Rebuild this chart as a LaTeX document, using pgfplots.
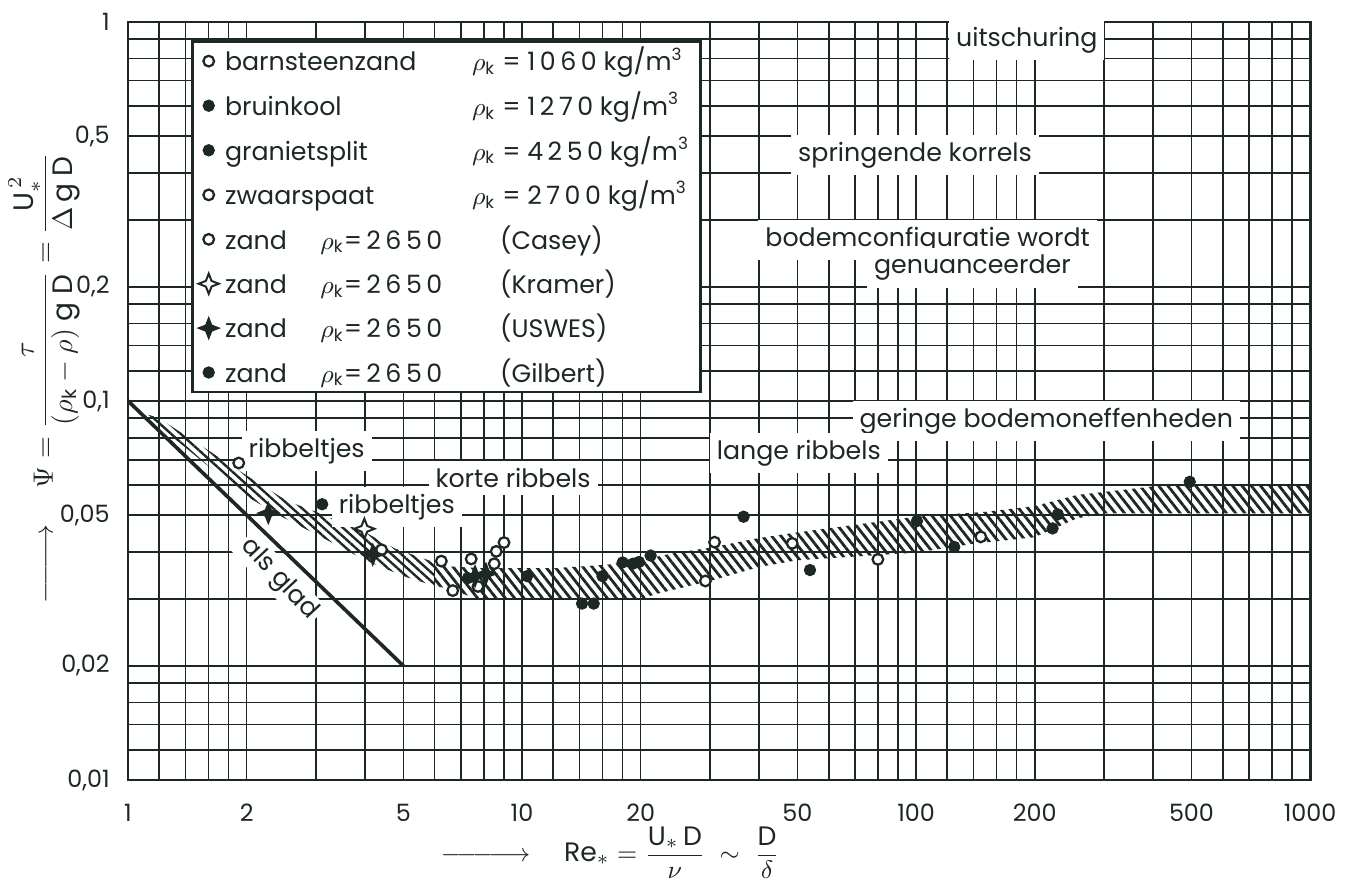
\documentclass[border=0pt]{standalone}
\usepackage{fontspec}
\setmainfont{Poppins}
\usepackage{amsmath}
\usepackage{pgfplots}
\pgfplotsset{compat=1.18}
\usetikzlibrary{patterns.meta}
\definecolor{ink}{RGB}{30,40,35}
\newcommand{\lbl}{\fontsize{9}{11}\selectfont}
\newcommand{\spaced}[1]{{\addfontfeature{LetterSpace=18}#1}}
\newcommand{\dens}[1]{$\rho_{\text{k}}$\ =\ \spaced{#1}\ kg/m$^{\text{3}}$}
\newcommand{\zand}[1]{\makebox[34pt][l]{zand}\makebox[64pt][l]{$\rho_{\text{k}}$=\,\spaced{2650}}(#1)}

% vierpuntige ster
\pgfdeclareplotmark{star4}{%
  \pgfpathmoveto{\pgfqpoint{0pt}{\pgfplotmarksize}}%
  \pgfpathlineto{\pgfqpoint{0.28\pgfplotmarksize}{0.28\pgfplotmarksize}}%
  \pgfpathlineto{\pgfqpoint{\pgfplotmarksize}{0pt}}%
  \pgfpathlineto{\pgfqpoint{0.28\pgfplotmarksize}{-0.28\pgfplotmarksize}}%
  \pgfpathlineto{\pgfqpoint{0pt}{-\pgfplotmarksize}}%
  \pgfpathlineto{\pgfqpoint{-0.28\pgfplotmarksize}{-0.28\pgfplotmarksize}}%
  \pgfpathlineto{\pgfqpoint{-\pgfplotmarksize}{0pt}}%
  \pgfpathlineto{\pgfqpoint{-0.28\pgfplotmarksize}{0.28\pgfplotmarksize}}%
  \pgfpathclose
  \pgfusepathqfillstroke}

\pgfplotsset{
  oc/.style={only marks, mark=*, mark size=1.9pt, mark options={draw=ink, fill=white, line width=0.8pt}},
  fc/.style={only marks, mark=*, mark size=2pt, mark options={draw=ink, fill=ink, line width=0.4pt}},
  os/.style={only marks, mark=star4, mark size=3.6pt, mark options={draw=ink, fill=white, line width=0.7pt}},
  fs/.style={only marks, mark=star4, mark size=3.8pt, mark options={draw=ink, fill=ink, line width=0.4pt}},
}
\tikzset{box/.style={fill=white, inner sep=2.5pt, font=\lbl, text=ink}}

\begin{document}
\begin{tikzpicture}
\begin{axis}[scale only axis, width=421pt, height=270pt,
  xmode=log, ymode=log, xmin=1, xmax=1000, ymin=0.01, ymax=1,
  xtick={1,2,5,10,20,50,100,200,500,1000},
  xticklabels={1,2,5,10,20,50,100,200,500,1000},
  ytick={0.01,0.02,0.05,0.1,0.2,0.5,1},
  yticklabels={{0,01},{0,02},{0,05},{0,1},{0,2},{0,5},{1}},
  minor xtick={1.2,1.4,1.6,1.8,2,3,4,5,6,7,8,9,12,14,16,18,20,30,40,50,60,70,80,90,
               120,140,160,180,200,300,400,500,600,700,800,900},
  minor ytick={0.012,0.014,0.016,0.018,0.02,0.03,0.04,0.05,0.06,0.07,0.08,0.09,
               0.12,0.14,0.16,0.18,0.2,0.3,0.4,0.5,0.6,0.7,0.8,0.9},
  grid=both,
  major grid style={ink, line width=0.6pt},
  minor grid style={ink, line width=0.6pt},
  axis line style={ink, line width=1pt},
  major tick length=0pt, minor tick length=0pt,
  tick label style={font=\fontsize{8.5}{10}\selectfont, text=ink},
  xticklabel style={yshift=-5pt}, yticklabel style={xshift=-3pt},
  xlabel={$\relbar\joinrel\relbar\joinrel\relbar\joinrel\relbar\joinrel\rightarrow\quad
    \text{Re}_{*}=\dfrac{\text{U}_{*}\,\text{D}}{\nu}\ \sim\ \dfrac{\text{D}}{\delta}$},
  xlabel style={at={(rel axis cs:0.408,-0.096)}, anchor=center, font=\fontsize{9.5}{11}\selectfont, text=ink},
  ylabel={$\relbar\joinrel\relbar\joinrel\relbar\joinrel\rightarrow\quad
    \Psi=\dfrac{\tau}{(\rho_{\text{k}}-\rho)\ \text{g D}}=\dfrac{\text{U}_{*}^{\,2}}{\Delta\,\text{g D}}$},
  ylabel style={at={(rel axis cs:-0.071,0.53)}, anchor=center, font=\fontsize{10}{12}\selectfont, text=ink},
  legend cell align=left,
  legend style={at={(rel axis cs:0.0533,0.976)}, anchor=north west, draw=ink,
    line width=1pt, fill=white, font=\lbl, text=ink, row sep=1.9pt,
    inner xsep=2pt, inner ysep=0pt},
]
% gearceerde band, schuin deel
\addplot[draw=none, forget plot, pattern={Lines[angle=-42,distance=2.3pt,line width=0.85pt]}, pattern color=ink]
  coordinates {(1.12,0.092) (1.19,0.0905) (2,0.0636) (2.53,0.0545) (3,0.051) (4,0.045) (4.76,0.0408) (6,0.0375)
               (6,0.0325) (5,0.0345) (4,0.038) (3,0.0445) (2.5,0.049) (2,0.056) (1.5,0.071) (1.12,0.091)} -- cycle;
% gearceerde band, vlak deel
\addplot[draw=none, forget plot, pattern={Lines[angle=-52,distance=2.6pt,line width=1pt]}, pattern color=ink]
  coordinates {(6,0.0375) (6.5,0.0366) (8,0.0362) (12,0.0362) (16.5,0.037) (20,0.038) (24,0.0396) (30,0.041)
               (40,0.0435) (50,0.045) (100,0.0495) (150,0.051) (200,0.0528) (256,0.0565) (400,0.0595) (500,0.06) (1000,0.06)
               (1000,0.0505) (300,0.0505) (256,0.049) (200,0.0437) (140,0.042) (100,0.0398) (50,0.038) (40,0.0365)
               (30,0.0335) (22,0.031) (20,0.030) (7.6,0.0302) (6.5,0.032) (6,0.0325)} -- cycle;

\node[box] at (axis cs:191,0.896) {uitschuring};
\node[box] at (axis cs:99.4,0.446) {springende korrels};
\node[box] at (axis cs:107,0.266) {bodemconfiguratie wordt};
\node[box] at (axis cs:139,0.2244) {genuanceerder};
\node[box] at (axis cs:214,0.0885) {geringe bodemoneffenheden};
\node[box] at (axis cs:50.4,0.0729) {lange ribbels};
\node[box] at (axis cs:9.49,0.0626) {korte ribbels};
\node[box] at (axis cs:2.84,0.0738) {ribbeltjes};
\node[box] at (axis cs:4.81,0.0525) {ribbeltjes};
\node[box, rotate=-47, inner sep=1pt] at (axis cs:2.42,0.0338) {als glad};

\addplot[ink, line width=1.3pt, forget plot] coordinates {(1,0.1) (5,0.02)};

\addplot[oc] coordinates {(6.24,0.0378) (6.67,0.0316) (7.43,0.0383) (7.73,0.0324) (8.5,0.0372) (8.6,0.0401) (9.0,0.0423)};
\addlegendentry{\makebox[88pt][l]{barnsteenzand}\dens{1060}}
\addplot[fc] coordinates {(10.3,0.0345) (14.2,0.0292) (15.2,0.0292) (16.0,0.0345) (18.0,0.0375) (19.1,0.0372) (19.8,0.0376) (21.2,0.0391)};
\addlegendentry{\makebox[88pt][l]{bruinkool}\dens{1270}}
\addplot[fc] coordinates {(36.5,0.0495) (53.8,0.0358) (100.5,0.0482) (125,0.0412) (222,0.0461) (229,0.0502) (495,0.0612)};
\addlegendentry{\makebox[88pt][l]{granietsplit}\dens{4250}}
\addplot[oc] coordinates {(29.2,0.0335) (30.8,0.0424) (48.5,0.0421)};
\addlegendentry{\makebox[88pt][l]{zwaarspaat}\dens{2700}}
\addplot[oc] coordinates {(1.91,0.0686) (4.4,0.0405) (80,0.0382) (146,0.0438)};
\addlegendentry{\zand{Casey}}
\addplot[os] coordinates {(3.98,0.046)};
\addlegendentry{\zand{Kramer}}
\addplot[fs] coordinates {(2.27,0.0506) (4.18,0.0393) (7.6,0.0345) (8.1,0.035)};
\addlegendentry{\zand{USWES}}
\addplot[fc] coordinates {(3.11,0.0534) (7.29,0.0341)};
\addlegendentry{\zand{Gilbert}}

\coordinate (SW) at (rel axis cs:0,0);
\coordinate (NE) at (rel axis cs:1,1);
\end{axis}
\pgfresetboundingbox
\path[use as bounding box] ([shift={(-45.6pt,-38.5pt)}]SW) rectangle ([shift={(16pt,7.8pt)}]NE);
\end{tikzpicture}
\end{document}
